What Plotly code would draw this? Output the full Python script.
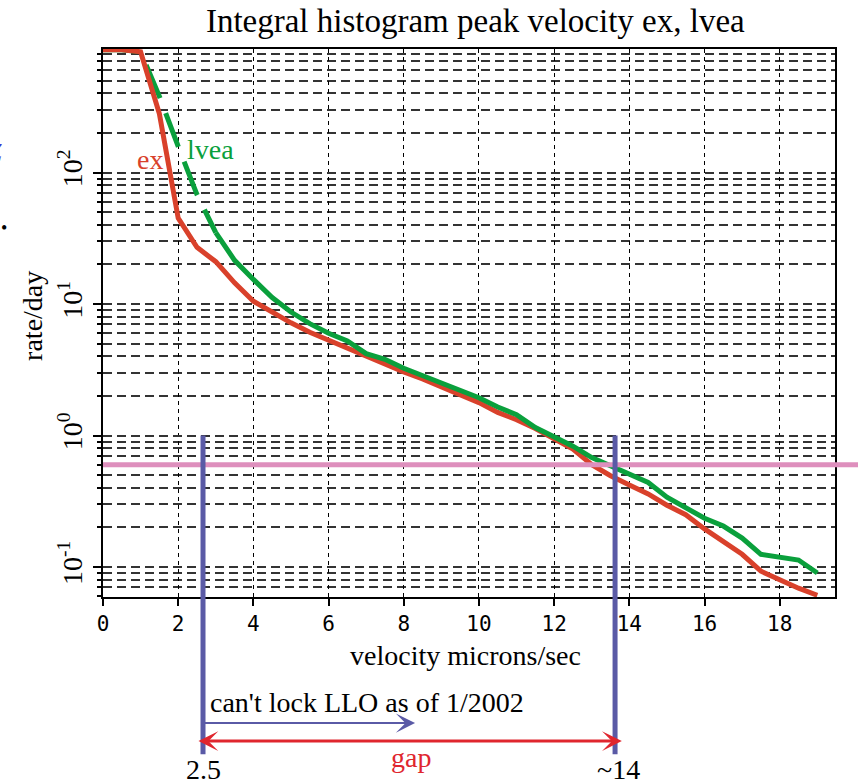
import numpy as np
import plotly.graph_objects as go

# ---------------- data ----------------
velocity = [0, 0.5, 1.0, 1.5, 2.0, 2.5, 3.0, 3.5, 4.0, 4.5, 5.0, 5.5, 6.0, 6.5,
            7.0, 7.5, 8.0, 8.5, 9.0, 9.5, 10.0, 10.5, 11.0, 11.5, 12.0, 12.5,
            13.0, 13.5, 14.0, 14.5, 15.0, 15.5, 16.0, 16.5, 17.0, 17.5, 18.0,
            18.5, 19.0]
rate_ex = [860, 860, 830, 280, 45, 27, 21, 14.5, 10.5, 8.6, 7.2, 6.1, 5.3, 4.7,
           4.0, 3.55, 3.05, 2.7, 2.35, 2.05, 1.78, 1.5, 1.32, 1.13, 0.95, 0.79,
           0.60, 0.495, 0.42, 0.36, 0.295, 0.25, 0.195, 0.155, 0.125, 0.093,
           0.08, 0.069, 0.061]
rate_lvea = [860, 860, 830, 380, 158, 68, 35, 21.5, 15.4, 11.2, 8.7, 7.1, 6.0,
             5.25, 4.2, 3.8, 3.25, 2.85, 2.5, 2.2, 1.94, 1.65, 1.44, 1.15, 0.97,
             0.83, 0.68, 0.59, 0.515, 0.44, 0.34, 0.28, 0.235, 0.205, 0.166,
             0.125, 0.119, 0.113, 0.09]
dash_end = 6            # lvea drawn dashed up to this index (v = 3.0)

x_ticks = [0, 2, 4, 6, 8, 10, 12, 14, 16, 18]
y_decades = [0.1, 1, 10, 100]
y_labels = ["10<sup>-1</sup>", "10<sup>0</sup>", "10<sup>1</sup>", "10<sup>2</sup>"]

threshold_rate = 0.6     # pink horizontal line
gap_lo, gap_hi = 2.66, 13.62   # blue vertical lines
arrow_lo, arrow_hi = 2.5, 13.8  # red "gap" arrow ends
llo_arrow_end = 8.3            # blue arrow end

x_range = [0, 19.47]
y_range = [-1.228, 2.94]

RED = "#d9412b"
GREEN = "#0aa03c"
BLUE = "#5a5aa6"
PINK = "#de8fbd"
SERIF = "Liberation Serif, Times New Roman, serif"

fig = go.Figure()
fig.add_trace(go.Scatter(x=velocity[:dash_end + 1], y=rate_lvea[:dash_end + 1],
                         mode="lines", line=dict(color=GREEN, width=5, dash="36px,16px"),
                         showlegend=False, hoverinfo="skip"))
fig.add_trace(go.Scatter(x=velocity, y=rate_ex, mode="lines",
                         line=dict(color=RED, width=5), showlegend=False))
fig.add_trace(go.Scatter(x=velocity[dash_end:], y=rate_lvea[dash_end:], mode="lines",
                         line=dict(color=GREEN, width=5), showlegend=False))

def ypaper(v):
    return (np.log10(v) - y_range[0]) / (y_range[1] - y_range[0])

# pink threshold line (extends past right border)
fig.add_shape(type="line", xref="paper", yref="y", x0=0, x1=1.04,
              y0=threshold_rate, y1=threshold_rate,
              line=dict(color=PINK, width=5), layer="above")
# blue vertical lines
for gx in (gap_lo, gap_hi):
    fig.add_shape(type="line", xref="x", yref="paper", x0=gx, x1=gx,
                  y0=ypaper(1.0), y1=-0.287, line=dict(color=BLUE, width=5),
                  layer="above")

ann = []
# blue arrow
ann.append(dict(x=llo_arrow_end, y=-0.23, xref="x", yref="paper",
                ax=gap_lo, ay=0, axref="x", ayref="pixel", showarrow=True,
                arrowhead=3, arrowsize=1.6, arrowwidth=2, arrowcolor=BLUE,
                standoff=0, text=""))
# red double arrow
ann.append(dict(x=arrow_hi, y=-0.263, xref="x", yref="paper",
                ax=arrow_lo, ay=0, axref="x", ayref="pixel", showarrow=True,
                arrowhead=3, startarrowhead=3, arrowside="end+start",
                arrowsize=1.1, startarrowsize=1.1, arrowwidth=3,
                arrowcolor="#e0262e", standoff=0, startstandoff=0, text=""))
ann.append(dict(x=2.8, y=-0.193, xref="x", yref="paper", xanchor="left",
                yanchor="middle", showarrow=False, text="can't lock LLO as of 1/2002",
                font=dict(family=SERIF, size=28, color="black")))
ann.append(dict(x=8.2, y=-0.292, xref="x", yref="paper", xanchor="center",
                yanchor="middle", showarrow=False, text="gap",
                font=dict(family=SERIF, size=28, color="#e0262e")))
ann.append(dict(x=gap_lo, y=-0.314, xref="x", yref="paper", xanchor="center",
                yanchor="middle", showarrow=False, text="2.5",
                font=dict(family=SERIF, size=28, color="black")))
ann.append(dict(x=13.7, y=-0.314, xref="x", yref="paper", xanchor="center",
                yanchor="middle", showarrow=False, text="~14",
                font=dict(family=SERIF, size=28, color="black")))
# curve labels
ann.append(dict(x=1.25, y=2.10, xref="x", yref="y", showarrow=False, text="ex",
                xanchor="center", yanchor="middle",
                font=dict(family=SERIF, size=28, color=RED)))
ann.append(dict(x=2.87, y=2.175, xref="x", yref="y", showarrow=False, text="lvea",
                xanchor="center", yanchor="middle",
                font=dict(family=SERIF, size=28, color=GREEN)))
# axis titles
ann.append(dict(x=0.495, y=-0.106, xref="paper", yref="paper", showarrow=False,
                xanchor="center", yanchor="middle",
                text="velocity microns/sec",
                font=dict(family=SERIF, size=28, color="black")))
ann.append(dict(x=-0.0956, y=0.513, xref="paper", yref="paper", showarrow=False,
                xanchor="center", yanchor="middle",
                text="rate/day", textangle=-90,
                font=dict(family=SERIF, size=28, color="black")))
# stray marks at left page edge
ann.append(dict(x=-0.135, y=0.812, xref="paper", yref="paper", showarrow=False,
                xanchor="right", yanchor="middle",
                text="<i>Z</i>", font=dict(family=SERIF, size=26, color="#3a3ad0")))
ann.append(dict(x=-0.135, y=0.673, xref="paper", yref="paper", showarrow=False,
                xanchor="center", yanchor="middle",
                text="•", font=dict(family=SERIF, size=18, color="black")))

fig.update_layout(
    width=858, height=780,
    margin=dict(l=103, r=23, t=49, b=183),
    paper_bgcolor="white", plot_bgcolor="white",
    title=dict(text="Integral histogram peak velocity ex, lvea",
               x=0.554, xanchor="center", y=0.974, yanchor="middle",
               font=dict(family=SERIF, size=33, color="black")),
    annotations=ann,
)
fig.update_xaxes(range=x_range, tickvals=x_ticks, ticks="outside", ticklen=7,
                 tickwidth=1.5, tickcolor="black",
                 showline=True, linecolor="black", linewidth=2, mirror=True,
                 showgrid=True, gridcolor="black", gridwidth=1, griddash="4px,4px",
                 zeroline=False,
                 tickfont=dict(family="DejaVu Sans Mono", size=21, color="black"))
fig.update_yaxes(type="log", range=y_range, tickvals=y_decades, ticktext=y_labels,
                 tickangle=-90, ticks="outside", ticklen=8, tickwidth=1.5,
                 tickcolor="black",
                 showline=True, linecolor="black", linewidth=2, mirror=True,
                 showgrid=True, gridcolor="#333333", gridwidth=1.5, griddash="9px,5px",
                 zeroline=False,
                 minor=dict(dtick="D1", ticks="outside", ticklen=4, tickcolor="black",
                            showgrid=True, gridcolor="#333333", gridwidth=1.5,
                            griddash="9px,5px"),
                 tickfont=dict(family=SERIF, size=28, color="black"))

fig.write_html("out.html")
